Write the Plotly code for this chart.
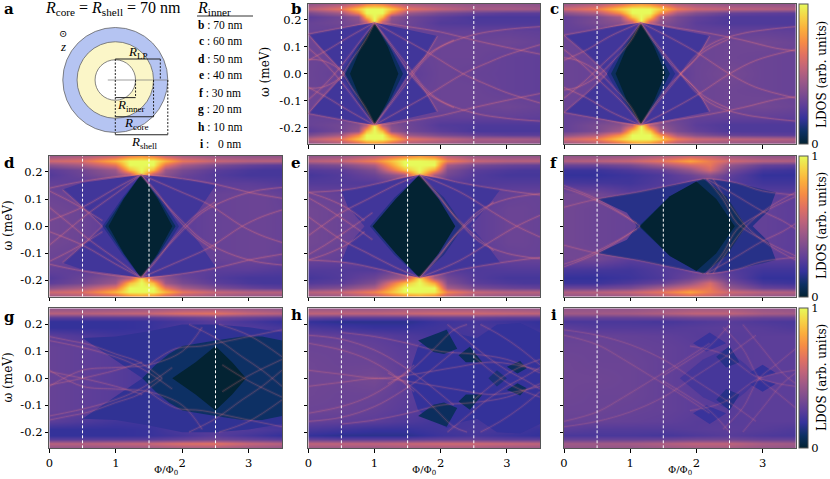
import plotly.graph_objects as go
from plotly.colors import sample_colorscale

W = 830
H = 479

OMEGA_ROWS = [0, .06, .12, .16, .19, .21, .225, .24, .26]

# each panel: columns in flux, then background LDOS for the omega rows above (mirrored below zero)
PHI_B = [0, .5, .75, .88, 1, 1.12, 1.25, 1.5, 2, 2.5, 3, 3.5]
Z_B = [
    [.31, .29, .27, .27, .27, .27, .27, .27, .31, .3, .29, .28],
    [.31, .3, .27, .27, .27, .27, .27, .29, .31, .31, .29, .28],
    [.31, .31, .27, .27, .27, .27, .27, .31, .31, .31, .32, .3],
    [.3, .29, .3, .3, .32, .3, .3, .3, .29, .29, .29, .28],
    [.3, .33, .37, .5, 1, .5, .37, .32, .25, .24, .24, .24],
    [.27, .33, .42, .85, 1, .85, .42, .33, .27, .23, .23, .23],
    [.35, .47, .72, 1, 1, 1, .72, .45, .35, .3, .27, .27],
    [.52, .65, .88, 1, 1, 1, .88, .65, .55, .48, .48, .46],
    [.42, .48, .58, .68, .72, .68, .58, .48, .45, .42, .42, .40],
]
PHI_C = [0, .5, .85, 1.02, 1.16, 1.3, 1.45, 1.7, 2, 2.5, 3, 3.5]
Z_C = [
    [.31, .3, .27, .27, .27, .27, .27, .27, .31, .34, .31, .3],
    [.31, .3, .27, .27, .27, .27, .27, .29, .31, .32, .31, .3],
    [.31, .3, .27, .27, .27, .27, .27, .31, .31, .32, .33, .31],
    [.29, .29, .31, .31, .32, .31, .31, .3, .29, .29, .29, .28],
    [.29, .35, .39, .52, 1, .52, .39, .33, .27, .24, .24, .24],
    [.29, .35, .47, .88, 1, .88, .47, .35, .29, .24, .24, .24],
    [.4, .5, .74, 1, 1, 1, .74, .48, .38, .3, .28, .27],
    [.58, .68, .9, 1, 1, 1, .9, .68, .58, .54, .52, .5],
    [.44, .5, .62, .72, .76, .72, .62, .5, .46, .42, .42, .42],
]
PHI_D = [0, .5, 1, 1.2, 1.38, 1.56, 1.75, 2, 2.5, 3, 3.25, 3.5]
Z_D = [
    [.33, .31, .27, .27, .27, .27, .27, .27, .3, .31, .31, .3],
    [.33, .31, .27, .27, .27, .27, .27, .27, .3, .31, .31, .3],
    [.31, .29, .27, .27, .27, .27, .27, .27, .3, .31, .31, .29],
    [.29, .27, .29, .31, .32, .31, .3, .27, .27, .27, .26, .25],
    [.25, .31, .39, .5, .95, .5, .39, .31, .25, .22, .22, .22],
    [.27, .33, .45, .85, 1, .85, .45, .35, .27, .23, .22, .22],
    [.4, .48, .66, 1, 1, 1, .66, .48, .36, .3, .28, .27],
    [.58, .62, .84, 1, 1, 1, .84, .66, .56, .52, .52, .52],
    [.44, .48, .56, .68, .74, .68, .56, .48, .44, .42, .42, .42],
]
PHI_E = [0, .5, 1, 1.45, 1.68, 1.9, 2.1, 2.5, 3, 3.25, 3.5]
Z_E = [
    [.33, .31, .27, .27, .27, .27, .27, .27, .31, .31, .3],
    [.33, .31, .27, .27, .27, .27, .27, .27, .31, .31, .3],
    [.31, .29, .27, .27, .27, .27, .27, .27, .29, .3, .3],
    [.25, .25, .25, .3, .33, .3, .25, .24, .25, .25, .25],
    [.22, .25, .31, .48, .95, .48, .33, .25, .22, .22, .22],
    [.25, .27, .37, .85, 1, .8, .37, .27, .24, .23, .23],
    [.33, .37, .5, 1, 1, 1, .48, .35, .31, .3, .29],
    [.52, .56, .7, 1, 1, .98, .7, .56, .52, .52, .52],
    [.42, .44, .52, .68, .76, .68, .52, .44, .42, .42, .42],
]
PHI_F = [0, .5, 1, 1.5, 1.9, 2.2, 2.5, 3, 3.5]
Z_F = [
    [.33, .31, .3, .27, .27, .27, .27, .29, .27],
    [.33, .31, .3, .27, .27, .27, .27, .29, .27],
    [.33, .33, .27, .27, .27, .27, .27, .27, .27],
    [.23, .22, .21, .25, .27, .27, .25, .21, .21],
    [.18, .18, .2, .24, .31, .4, .28, .18, .18],
    [.2, .2, .24, .3, .43, .6, .34, .22, .2],
    [.31, .31, .35, .48, .6, .66, .43, .3, .28],
    [.5, .52, .56, .66, .8, .68, .58, .52, .5],
    [.42, .42, .44, .5, .56, .54, .46, .42, .42],
]
PHI_G = [0, .5, 1, 1.5, 2, 2.5, 3, 3.5]
Z_G = [
    [.3, .28, .26, .23, .21, .21, .21, .23],
    [.3, .28, .26, .23, .21, .21, .21, .23],
    [.3, .28, .26, .24, .21, .21, .21, .22],
    [.27, .24, .21, .21, .21, .21, .21, .21],
    [.18, .18, .18, .19, .24, .26, .25, .22],
    [.18, .18, .18, .19, .22, .26, .22, .18],
    [.27, .27, .27, .27, .3, .33, .3, .27],
    [.52, .52, .54, .56, .62, .64, .56, .52],
    [.42, .42, .43, .44, .46, .46, .44, .42],
]
PHI_H = [0, .5, 1, 1.5, 2, 2.5, 3, 3.5]
Z_H = [
    [.32, .32, .34, .27, .24, .25, .25, .23],
    [.32, .31, .31, .27, .25, .25, .25, .23],
    [.31, .31, .29, .26, .24, .24, .24, .23],
    [.29, .28, .27, .24, .21, .22, .23, .23],
    [.23, .21, .19, .19, .21, .23, .22, .19],
    [.18, .16, .16, .16, .2, .22, .2, .18],
    [.3, .28, .28, .28, .3, .3, .28, .28],
    [.54, .54, .54, .56, .58, .58, .56, .54],
    [.44, .44, .44, .46, .46, .46, .44, .44],
]
PHI_I = [0, .5, 1, 1.5, 2, 2.5, 3, 3.5]
Z_I = [
    [.32, .32, .31, .29, .26, .26, .27, .27],
    [.32, .31, .31, .29, .27, .26, .27, .27],
    [.31, .31, .3, .29, .27, .26, .27, .27],
    [.3, .3, .29, .28, .26, .26, .27, .27],
    [.27, .25, .25, .25, .26, .27, .26, .24],
    [.23, .23, .23, .22, .24, .26, .24, .23],
    [.3, .3, .3, .31, .33, .33, .3, .3],
    [.46, .46, .47, .5, .54, .54, .48, .46],
    [.42, .42, .42, .44, .46, .46, .43, .42],
]

# gap regions: level, then the upper half outline as flux and omega
GAPS_B = [
    (.21, [.55, .3, 0, .5, 1, 1.5, 1.95, 1.75, 1.55], [0, .07, .147, .17, .19, .165, .14, .06, 0]),
    (.15, [.5, .75, 1, 1.25, 1.5], [0, .105, .19, .105, 0]),
    (.08, [.56, .77, 1, 1.23, 1.43], [0, .1, .19, .1, 0]),
    (0, [.63, .8, 1, 1.2, 1.36], [0, .1, .19, .1, 0]),
]
GAPS_C = [
    (.21, [.65, .35, 0, .5, 1.16, 1.7, 2.2, 2, 1.75], [0, .07, .143, .165, .19, .165, .14, .06, 0]),
    (.15, [.65, .9, 1.16, 1.42, 1.68], [0, .105, .19, .105, 0]),
    (.08, [.71, .92, 1.16, 1.39, 1.6], [0, .1, .19, .1, 0]),
    (0, [.78, .95, 1.16, 1.36, 1.53], [0, .1, .19, .1, 0]),
]
GAPS_D = [
    (.21, [.8, .5, .2, .5, 1.38, 2, 2.5, 2.25, 2.05], [0, .07, .135, .16, .19, .175, .15, .06, 0]),
    (.15, [.8, 1.1, 1.38, 1.68, 1.95], [0, .105, .19, .105, 0]),
    (.08, [.84, 1.11, 1.38, 1.65, 1.9], [0, .1, .19, .1, 0]),
    (0, [.89, 1.12, 1.38, 1.63, 1.85], [0, .1, .19, .1, 0]),
]
GAPS_E = [
    (.21, [.85, .6, .5, 1.1, 1.68, 2.3, 2.9, 2.7, 2.45], [0, .07, .13, .16, .19, .16, .135, .07, 0]),
    (.14, [.93, 1.3, 1.68, 2.05, 2.35], [0, .105, .19, .105, 0]),
    (0, [.97, 1.32, 1.68, 1.97, 2.22], [0, .1, .19, .1, 0]),
]
GAPS_F = [
    (.15, [1.1, .95, .5, 1.1, 1.7, 2.15, 2.6, 3.2, 3.1, 2.85], [0, .05, .1, .125, .155, .175, .16, .125, .06, 0]),
    (.08, [1.13, 1.6, 2.1, 2.45, 2.75], [0, .11, .175, .11, 0]),
    (0, [1.15, 1.6, 2, 2.3, 2.58], [0, .11, .165, .1, 0]),
]
GAPS_G = [
    (.17, [1.4, 1.1, .5, 1, 1.5, 2, 2.5, 3, 3.5, 3.5], [0, .05, .15, .155, .175, .2, .2, .19, .17, 0]),
    (.09, [1.4, 1.6, 1.8, 2, 2.5, 2.9, 3.2, 3.5, 3.5], [0, .05, .09, .12, .14, .155, .155, .14, 0]),
    (0, [1.85, 2.2, 2.5, 2.75, 2.96], [0, .06, .12, .06, 0]),
]
GAPS_H = [
    (.18, [1.5, 1.66, 2.09, 2.35, 2.55, 2.85, 3.2, 3.5, 3.5], [0, .12, .185, .16, .15, .2, .205, .17, 0]),
    (.08, [1.66, 2.09, 2.25, 2.05, 1.89], [.14, .18, .11, .09, .098]),
    (.07, [2.27, 2.44, 2.63, 2.38], [.086, .117, .06, .06]),
    (.08, [3, 3.2, 3.3, 3.16], [.043, .064, .037, .018]),
    (.12, [2.72, 2.85, 3], [0, .03, 0]),
]
GAPS_I = [
    (.22, [1.75, 2.1, 2.45, 2.75, 2.95], [0, .07, .11, .05, 0]),
    (.19, [1.95, 2.2, 2.45, 2.15], [.13, .17, .13, .1]),
    (.15, [2.3, 2.5, 2.65, 2.45], [.08, .12, .06, .04]),
    (.18, [2.8, 3, 3.2, 3], [.02, .05, .02, .005]),
]

# spectral branches, drawn with their particle-hole partner
CURVES_B = [
    ([0, .5, 1, 1.5, 2, 2.5, 3, 3.5], [.147, .17, .19, .175, .155, .125, .098, .073]),
    ([1, 1.25, 1.5, 1.75, 2, 2.5, 3, 3.5], [-.19, -.11, -.03, .05, .10, .145, .165, .175]),
    ([1, 1.4, 1.8, 2.34, 2.7, 3, 3.5], [-.19, -.135, -.08, 0, .04, .07, .108]),
    ([1, 1.2, 1.4, 1.6, 1.85, 2.2], [-.19, -.12, -.05, .02, .08, .125]),
    ([1, .75, .5, .25, 0], [-.19, -.11, -.03, .04, .096]),
    ([1, .6, .3, 0], [-.19, -.135, -.09, -.05]),
    ([1, .85, .65, .45, .2, 0], [-.19, -.12, -.05, .02, .05, .053]),
    ([0, .25, .55], [.147, .075, 0]),
    ([1.55, 1.75, 1.95], [0, .06, .14]),
]
CURVES_C = [
    ([0, .5, 1.16, 1.7, 2.2, 2.7, 3.2, 3.5], [.143, .165, .19, .17, .15, .125, .095, .085]),
    ([1.16, 1.4, 1.7, 2, 2.3, 2.7, 3.1, 3.5], [-.19, -.11, -.02, .07, .12, .15, .165, .175]),
    ([1.16, 1.6, 2, 2.5, 2.9, 3.5], [-.19, -.135, -.08, 0, .05, .09]),
    ([1.16, 1.35, 1.6, 1.85, 2.1, 2.5], [-.19, -.12, -.04, .02, .08, .13]),
    ([1.16, .9, .6, .3, 0], [-.19, -.11, -.04, .03, .09]),
    ([1.16, .7, .35, 0], [-.19, -.14, -.09, -.05]),
    ([1.16, 1, .75, .5, .2, 0], [-.19, -.12, -.05, .01, .05, .06]),
    ([0, .35, .65], [.143, .07, 0]),
    ([1.75, 2, 2.2], [0, .06, .14]),
]
CURVES_D = [
    ([0, .5, 1.38, 2, 2.5, 3, 3.5], [.14, .165, .19, .175, .155, .125, .103]),
    ([1.38, 1.65, 1.95, 2.3, 2.7, 3.1, 3.5], [-.19, -.11, -.03, .05, .1, .13, .143]),
    ([1.38, 1.9, 2.4, 2.9, 3.2, 3.5], [-.19, -.135, -.08, 0, .035, .06]),
    ([1.38, 1.6, 1.85, 2.15, 2.5], [-.19, -.13, -.05, .03, .09]),
    ([1.38, 1, .6, .25, 0], [-.19, -.12, -.05, .02, .07]),
    ([1.38, 1, .5, 0], [-.19, -.14, -.07, -.02]),
    ([0, .4, .8], [.13, .08, .02]),
    ([.2, .5, .8], [.135, .07, 0]),
]
CURVES_E = [
    ([0, .6, 1.1, 1.68, 2.3, 2.9, 3.5], [.125, .135, .16, .19, .16, .135, .115]),
    ([1.68, 2, 2.3, 2.6, 3, 3.5], [-.19, -.1, -.01, .06, .1, .12]),
    ([1.68, 2.3, 2.8, 3.15, 3.5], [-.19, -.125, -.05, 0, .04]),
    ([1.68, 1.95, 2.2, 2.5, 2.8], [-.19, -.12, -.04, .03, .09]),
    ([0, .25, .5, .8, .97], [.105, .07, .03, -.02, -.05]),
    ([0, .3, .6, .85], [.125, .1, .065, .02]),
    ([1.68, 1.3, .9, .5, .2, 0], [-.19, -.15, -.1, -.05, 0, .035]),
]
CURVES_F = [
    ([0, .5, 1.1, 1.7, 2.15, 2.6, 3, 3.5], [.07, .1, .125, .155, .175, .16, .13, .115]),
    ([0, .5, .85, 1.15], [.15, .1, .05, 0]),
    ([0, .3, .6, .9, 1.1], [.14, .115, .08, .04, .01]),
    ([2.15, 2.4, 2.62, 3, 3.5], [-.175, -.1, -.01, .05, .11]),
    ([2.15, 2.55, 3, 3.3, 3.5], [-.175, -.12, -.055, -.02, .01]),
    ([2.25, 2.5, 2.75, 3.1, 3.5], [-.175, -.08, 0, .07, .125]),
]
CURVES_G = [
    ([0, .3, .6, 1, 1.35, 1.7], [.155, .14, .125, .09, .06, 0]),
    ([0, .4, .8, 1.2, 1.5, 1.85], [.14, .12, .095, .06, .02, -.04]),
    ([0, .5, 1, 1.5, 2, 2.3], [-.03, .03, .04, .05, .1, .19]),
    ([0, .5, 1, 1.4], [.025, 0, -.03, -.06]),
    ([1.5, 1.9, 2.3, 2.9, 3.5], [.05, .11, .12, .15, .18]),
    ([2.1, 2.5, 2.9, 3.2, 3.5], [.2, .15, .08, .03, -.03]),
    ([2.55, 3, 3.5], [.2, .16, .08]),
    ([2.6, 3, 3.5], [-.05, .01, .07]),
]
CURVES_H = [
    ([0, .5, 1, 1.4, 1.8, 2.2], [.16, .145, .105, .05, -.02, -.1]),
    ([0, .5, .9, 1.25, 1.6], [.13, .105, .07, .02, -.05]),
    ([0, .5, 1.06, 1.6, 2.2, 2.8, 3.5], [.03, .015, 0, .015, .04, .06, .03]),
    ([.5, 1, 1.5, 2, 2.5, 3, 3.5], [.17, .155, .13, .1, .09, .07, .02]),
    ([1.2, 1.55, 1.9, 2.2, 2.4], [-.02, .03, .11, .18, .2]),
    ([2.1, 2.4, 2.7, 3, 3.3, 3.5], [.2, .14, .08, .03, -.01, -.04]),
    ([2.6, 2.9, 3.2, 3.5], [.2, .16, .11, .05]),
    ([2.5, 2.8, 3.1, 3.5], [-.08, -.02, .03, .07]),
]
CURVES_I = [
    ([0, .5, 1, 1.5, 2, 2.5, 2.9], [.18, .16, .125, .07, -.01, -.09, -.16]),
    ([0, .5, .9, 1.3, 1.7, 2.2], [.16, .125, .07, .01, -.05, -.13]),
    ([1.5, 1.9, 2.2, 2.5], [.01, .07, .12, .2]),
    ([2.4, 2.7, 2.95, 3.2, 3.5], [.19, .11, 0, -.05, -.11]),
    ([2.7, 3, 3.3, 3.5], [.2, .11, .02, -.02]),
    ([1.9, 2.4, 2.95, 3.5], [.12, .09, 0, -.03]),
]

FLUX_MARKS = [.5, 1.5, 2.5]
X_TICKS = [0, 1, 2, 3]
Y_TICKS = [-.2, -.1, 0, .1, .2]
Y_LABELS = ["-0.2", "-0.1", "0.0", "0.1", "0.2"]
R_SHELL, R_CORE, R_INNER, R_LP = 70, 51, 27, 60
INNER_ROWS = ["b", "c", "d", "e", "f", "g", "h", "i"]
INNER_VALUES = ["70", "60", "50", "40", "30", "20", "10", "  0"]

SERIF = "DejaVu Serif"
CM = "Liberation Serif"
FRAME = "#555555"

# name, data, left/right and top/bottom of the axes in pixels
panels = [
    ("b", PHI_B, Z_B, GAPS_B, CURVES_B, 308.3, 540, 3.7, 144, .26),
    ("c", PHI_C, Z_C, GAPS_C, CURVES_C, 564, 795.7, 3.7, 144, .26),
    ("d", PHI_D, Z_D, GAPS_D, CURVES_D, 49.3, 282, 155.7, 296.7, .26),
    ("e", PHI_E, Z_E, GAPS_E, CURVES_E, 308.3, 540, 155.7, 296.7, .26),
    ("f", PHI_F, Z_F, GAPS_F, CURVES_F, 564, 795.7, 155.7, 296.7, .22),
    ("g", PHI_G, Z_G, GAPS_G, CURVES_G, 49.3, 282, 308.3, 448.3, .2),
    ("h", PHI_H, Z_H, GAPS_H, CURVES_H, 308.3, 540, 308.3, 448.3, .2),
    ("i", PHI_I, Z_I, GAPS_I, CURVES_I, 564, 795.7, 308.3, 448.3, .16),
]


def px(x):
    return x / W


def py(y):
    return 1 - y / H


def label(x, y, text, size=11, font=SERIF, angle=0, color="black"):
    return dict(x=px(x), y=py(y), xref="paper", yref="paper", text=text, showarrow=False,
                textangle=angle, font=dict(family=font, size=size, color=color),
                xanchor="center", yanchor="middle")


fig = go.Figure()
layout = {}
shapes = []
annotations = []
omega_full = [-v for v in OMEGA_ROWS[:0:-1]] + OMEGA_ROWS
tick_font = dict(family=SERIF, size=11.5, color="black")

for n, (name, phi, z, gaps, curves, x0, x1, y0, y1, alpha) in enumerate(panels, start=1):
    xa, ya = ("x%d" % n, "y%d" % n)
    z_full = z[:0:-1] + z
    colorbar = None
    if name in ("c", "f", "i"):
        colorbar = dict(x=px(799.3), xanchor="left", xref="paper", y=py(y1), yanchor="bottom", yref="paper",
                        lenmode="pixels", len=y1 - y0, thicknessmode="pixels", thickness=9,
                        tickvals=[0, 1], ticktext=["0", "1"], ticklen=0, outlinecolor=FRAME, outlinewidth=1,
                        tickfont=tick_font, xpad=0, ypad=0)
    fig.add_trace(go.Heatmap(x=phi, y=omega_full, z=z_full, colorscale="thermal", zmin=0, zmax=1,
                             zsmooth="best", showscale=colorbar is not None, colorbar=colorbar,
                             xaxis=xa, yaxis=ya, hoverinfo="skip"))
    for level, gx, gy in gaps:
        fill = sample_colorscale("thermal", [level])[0]
        if gy[0] == 0:
            outline_x = gx + gx[::-1]
            outline_y = gy + [-v for v in gy[::-1]]
        else:
            # lobes away from zero come as a separate pair
            outline_x = gx + [None] + gx
            outline_y = gy + [None] + [-v for v in gy]
        fig.add_trace(go.Scatter(x=outline_x, y=outline_y, mode="lines", fill="toself",
                                 fillcolor=fill, line=dict(width=0), xaxis=xa, yaxis=ya,
                                 hoverinfo="skip", showlegend=False))
    for cx, cy in curves:
        for sign in (1, -1):
            signed = [sign * v for v in cy]
            fig.add_trace(go.Scatter(x=cx, y=signed, mode="lines",
                                     line=dict(color="rgba(225,110,135,%.2f)" % (alpha * .45), width=3, shape="spline"),
                                     xaxis=xa, yaxis=ya, hoverinfo="skip", showlegend=False))
            fig.add_trace(go.Scatter(x=cx, y=signed, mode="lines",
                                     line=dict(color="rgba(245,130,125,%.2f)" % alpha, width=1, shape="spline"),
                                     xaxis=xa, yaxis=ya, hoverinfo="skip", showlegend=False))
    left = name in ("b", "d", "g")
    bottom = name in ("g", "h", "i")
    layout["xaxis%d" % n] = dict(domain=[px(x0), px(x1)], range=[0, 3.5], anchor=ya, tickvals=X_TICKS,
                                 ticktext=[str(t) for t in X_TICKS], showticklabels=bottom,
                                 ticks="outside", ticklen=3.5, tickwidth=1, tickcolor="black",
                                 showgrid=False, zeroline=False, showline=True, linecolor=FRAME,
                                 linewidth=1, mirror=True, tickfont=tick_font)
    layout["yaxis%d" % n] = dict(domain=[py(y1), py(y0)], range=[-.26, .26], anchor=xa, tickvals=Y_TICKS,
                                 ticktext=Y_LABELS, showticklabels=left,
                                 ticks="outside", ticklen=3.5, tickwidth=1, tickcolor="black",
                                 showgrid=False, zeroline=False, showline=True, linecolor=FRAME,
                                 linewidth=1, mirror=True, tickfont=tick_font)
    for mark in FLUX_MARKS:
        shapes.append(dict(type="line", xref=xa, yref=ya, x0=mark, x1=mark, y0=-.26, y1=.26,
                           line=dict(color="white", width=1, dash="3px,2px")))

# schematic drawn on its own hidden axes, in nm
layout["xaxis9"] = dict(domain=[px(115.3 - 67.5), px(115.3 + 67.5)], range=[-90, 90], visible=False, anchor="y9")
layout["yaxis9"] = dict(domain=[py(80 + 67.5), py(80 - 67.5)], range=[-90, 90], visible=False, anchor="x9")
fig.add_trace(go.Scatter(x=[0], y=[0], mode="markers", marker=dict(size=1, opacity=0), xaxis="x9", yaxis="y9",
                         hoverinfo="skip", showlegend=False))


def ring(radius, fill):
    return dict(type="circle", xref="x9", yref="y9", x0=-radius, x1=radius, y0=-radius, y1=radius,
                fillcolor=fill, line=dict(color="#666666", width=.8))


def dim(xa0, ya0, xa1, ya1, dash="solid", color="#222222", width=1):
    return dict(type="line", xref="x9", yref="y9", x0=xa0, y0=ya0, x1=xa1, y1=ya1,
                line=dict(color=color, width=width, dash=dash))


shapes += [ring(R_SHELL, "#b5c4f2"), ring(R_CORE, "#fbf6c8"), ring(R_INNER, "white")]
shapes += [
    dim(-10, 0, R_SHELL, 0, color="#777777", width=.7),
    dim(0, 28, 0, -73, dash="2px,1.5px"),
    dim(0, 28, R_LP, 28),
    dim(R_LP, 28, R_LP, 0, dash="2px,1.5px"),
    dim(0, -23.5, R_INNER, -23.5),
    dim(R_INNER, 0, R_INNER, -23.5, dash="2px,1.5px"),
    dim(0, -49, R_CORE, -49),
    dim(R_CORE, 0, R_CORE, -49, dash="2px,1.5px"),
    dim(0, -73, R_SHELL, -73),
    dim(R_SHELL, 0, R_SHELL, -73, dash="2px,1.5px"),
]

annotations += [
    label(113, 9, "<i>R</i><sub>core</sub> = <i>R</i><sub>shell</sub> = 70 nm", size=16, font=CM),
    label(138, 52, "<i>R</i><sub>LP</sub>", size=13, font=CM),
    label(131, 105, "<i>R</i><sub>inner</sub>", size=13, font=CM),
    label(136, 124, "<i>R</i><sub>core</sub>", size=13, font=CM),
    label(144, 142, "<i>R</i><sub>shell</sub>", size=13, font=CM),
    label(62.7, 34, "⊙", size=10, font=SERIF),
    label(62.7, 46, "<i>z</i>", size=13, font=CM),
    label(214, 9, "<i>R</i><sub>inner</sub>", size=16, font=CM),
]
shapes.append(dict(type="line", xref="paper", yref="paper", x0=px(197), x1=px(253), y0=py(16), y1=py(16),
                   line=dict(color="#333333", width=1)))
for i, (row, value) in enumerate(zip(INNER_ROWS, INNER_VALUES)):
    annotations.append(label(220, 24.5 + i * 17, "<b>%s</b> : %s nm" % (row, value), size=11.5, font=CM))

for letter, x, y in [("a", 9, 9), ("b", 296, 9), ("c", 554, 9), ("d", 9, 163), ("e", 296, 163),
                     ("f", 554, 163), ("g", 9, 317), ("h", 296, 315), ("i", 554, 315)]:
    annotations.append(label(x, y, "<b>%s</b>" % letter, size=15))
for x, y in [(265, 72), (7.5, 226), (7.5, 378)]:
    annotations.append(label(x, y, "ω (meV)", size=12, angle=-90))
for x in [166, 424, 680]:
    annotations.append(label(x, 470, "Φ/Φ<sub>0</sub>", size=10))
for y in [75, 226, 378]:
    annotations.append(label(822, y, "LDOS (arb. units)", size=12, angle=-90))

fig.update_layout(width=W, height=H, margin=dict(l=0, r=0, t=0, b=0, autoexpand=False), paper_bgcolor="white",
                  plot_bgcolor="white", showlegend=False, shapes=shapes, annotations=annotations, **layout)
# page default margin would shift the figure out of the window
fig.write_html("out.html", post_script="document.body.style.margin='0';", config={"displayModeBar": False})
